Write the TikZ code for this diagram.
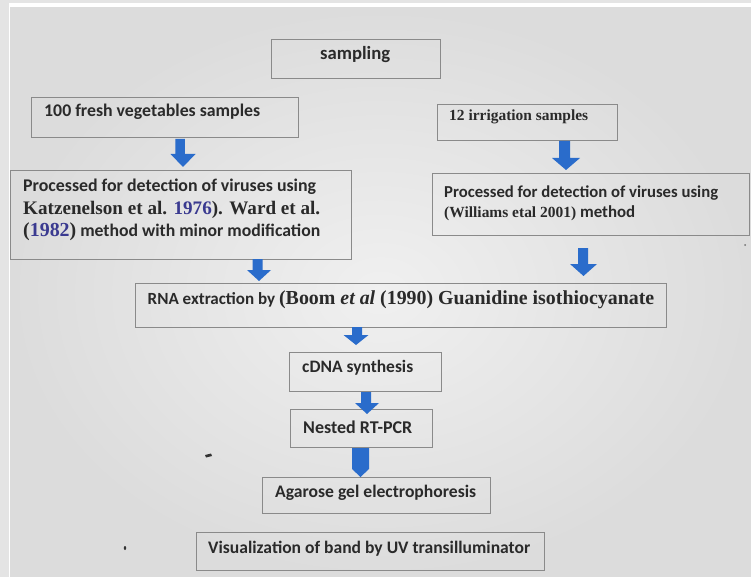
\documentclass[tikz,border=0pt]{standalone}
\usepackage{fontspec}
\setmainfont{Carlito}
\newfontfamily\tnr{Liberation Serif}
\usetikzlibrary{calc}
\definecolor{outerbg}{HTML}{E4E4E4}
\definecolor{photoin}{HTML}{F0F0F0}
\definecolor{photoout}{HTML}{DCDCDC}
\definecolor{boxline}{HTML}{8A8A8A}
\definecolor{ink}{HTML}{2A2A2A}
\definecolor{yearblue}{HTML}{3A3A90}
\definecolor{arrowblue}{HTML}{2A6CCB}
\definecolor{speck}{HTML}{333333}
\newcommand\fitw[2]{\resizebox{#1pt}{!}{#2}}
% block arrow: start coord, tip coord, shaft width, head width, head length
\newcommand\barrow[5]{%
  \fill[arrowblue] ($(#1)+(-#3/2,0)$) -- ($(#1)+(#3/2,0)$) -- ($(#1 |- #2)+(#3/2,-#5)$)
    -- ($(#2)+(#4/2,-#5)$) -- (#2) -- ($(#2)+(-#4/2,-#5)$) -- ($(#1 |- #2)+(-#3/2,-#5)$) -- cycle;}
\begin{document}
\begin{tikzpicture}[x=1pt,y=-1pt,
  box/.style={draw=boxline, line width=0.9pt, rectangle, inner sep=0pt},
  txt/.style={anchor=west, inner sep=0pt, text=ink, font=\bfseries\fontsize{12}{14}\selectfont}]
\useasboundingbox (0,0) rectangle (751,577);
% background (photo of a screen)
\fill[outerbg] (0,0) rectangle (751,577);
\fill[white] (9,3.5) rectangle (751,577);
\shade[inner color=photoin, outer color=photoout] (10,8) rectangle (751,577);
% boxes
\node[box, minimum width=169pt, minimum height=39pt] (samp) at (355.5,58.5) {};
\node[box, minimum width=266.5pt, minimum height=40pt] (fresh) at (164.75,117) {};
\node[box, minimum width=180pt, minimum height=36pt] (irr) at (527,122) {};
\node[box, minimum width=340.5pt, minimum height=89pt] (procL) at (180.75,214.5) {};
\node[box, minimum width=316.5pt, minimum height=62pt] (procR) at (590.75,204) {};
\node[box, minimum width=531pt, minimum height=44pt] (rna) at (400.5,305) {};
\node[box, minimum width=152pt, minimum height=39pt] (cdna) at (365,371.5) {};
\node[box, minimum width=142pt, minimum height=38pt] (nest) at (361,428) {};
\node[box, minimum width=228pt, minimum height=36pt] (agar) at (376,495) {};
\node[box, minimum width=348pt, minimum height=38pt] (vis) at (370,551) {};
% texts
\node[txt] (tsamp) at (320,55) {\fitw{70}{sampling}};
\node[txt] (tfresh) at (44,112) {\fitw{216}{100 fresh vegetables samples}};
\node[txt] (tirr) at (449,117) {\fitw{139}{\tnr 12 irrigation samples}};
\node[txt] (tl1) at (23,187) {\fitw{293}{Processed for detection of viruses using}};
\node[txt] (tl2) at (23,210) {\fitw{297}{\tnr\fontsize{14}{16}\selectfont Katzenelson et al. \textcolor{yearblue}{1976}). Ward et al.}};
\node[txt] (tl3) at (23,232) {\fitw{297}{{\tnr\fontsize{13.5}{16}\selectfont(\textcolor{yearblue}{1982})} method with minor modification}};
\node[txt] (tr1) at (444,193) {\fitw{274}{Processed for detection of viruses using}};
\node[txt] (tr2) at (444,213) {\fitw{191}{{\tnr\fontsize{11}{13}\selectfont(Williams etal 2001)} method}};
\node[txt] (trna) at (147.5,300) {\fitw{506.5}{RNA extraction by {\tnr\fontsize{14}{16}\selectfont(Boom \textit{et al} (1990) Guanidine isothiocyanate}}};
\node[txt] (tcdna) at (302,368) {\fitw{111}{cDNA synthesis}};
\node[txt] (tnest) at (303,427) {\fitw{109}{Nested RT-PCR}};
\node[txt] (tagar) at (275,493) {\fitw{201}{Agarose gel electrophoresis}};
\node[txt] (tvis) at (208,549) {\fitw{322}{Visualization of band by UV transilluminator}};
% arrow end points
\coordinate (a1s) at (180,139);   \coordinate (a1e) at (183,167);
\coordinate (a2s) at (564.5,141); \coordinate (a2e) at (566,170);
\coordinate (a3s) at (257.5,259); \coordinate (a3e) at (259,281);
\coordinate (a4s) at (583,248);   \coordinate (a4e) at (583.5,276);
\coordinate (a5s) at (357,327);   \coordinate (a5e) at (356,345);
\coordinate (a6s) at (366,392);   \coordinate (a6e) at (367,414);
\coordinate (a7s) at (360.5,448); \coordinate (a7e) at (360.5,477);
\barrow{a1s}{a1e}{9.5}{25}{13}
\barrow{a2s}{a2e}{11}{28}{12}
\barrow{a3s}{a3e}{10}{24}{11}
\barrow{a4s}{a4e}{10}{27}{12}
\barrow{a5s}{a5e}{10}{25}{10}
\barrow{a6s}{a6e}{10}{24}{11}
\barrow{a7s}{a7e}{17}{17}{8}
% specks on the photographed screen
\fill[speck] (205,455) -- (211,453.5) -- (212,456) -- (206,457.5) -- cycle;
\fill[speck] (125,548) ellipse (1.2pt and 2pt);
\fill[speck!70] (745,245) circle (1pt);
\end{tikzpicture}
\end{document}
